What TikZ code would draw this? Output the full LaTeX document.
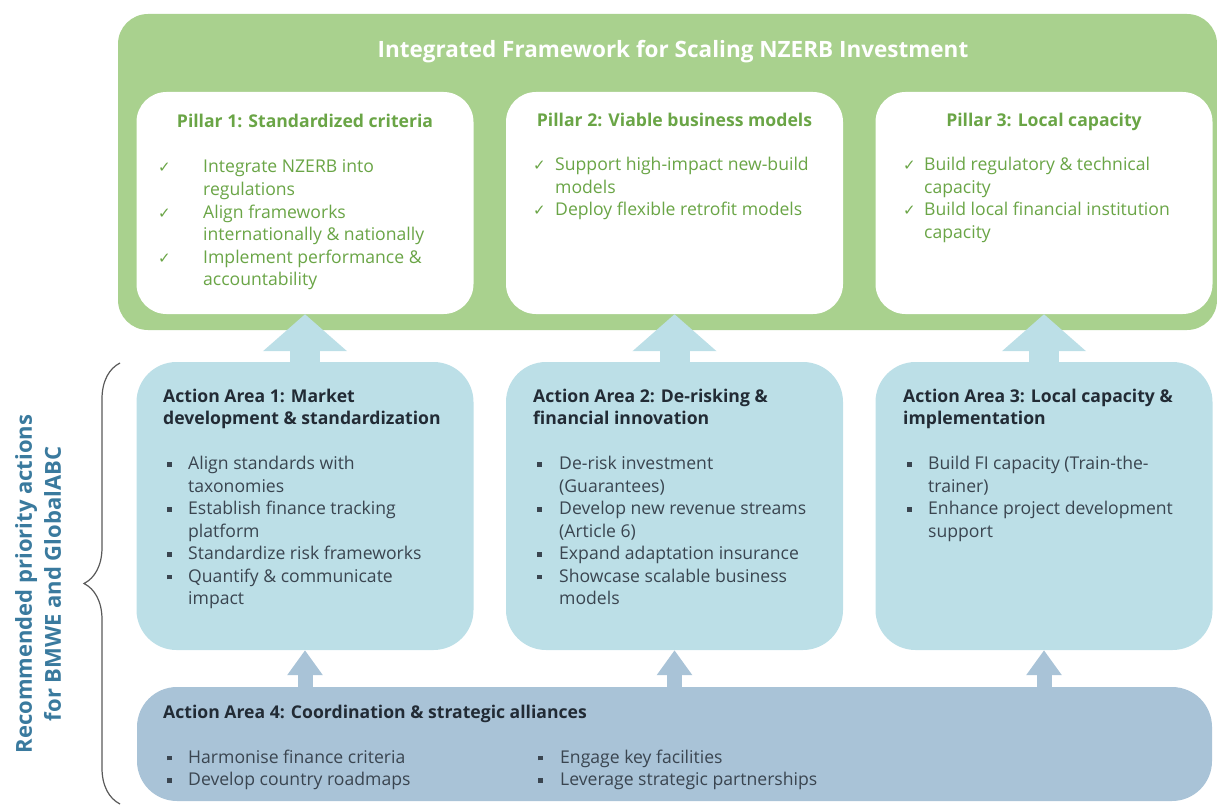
\documentclass[tikz,border=0pt]{standalone}
\usepackage{fontspec}
\setmainfont{Open Sans}
\newfontfamily\symfont{DejaVu Sans}
\usetikzlibrary{arrows.meta,decorations.pathreplacing}

\definecolor{framegreen}{HTML}{A9D18E}
\definecolor{pillargreen}{HTML}{6AA546}
\definecolor{actionblue}{HTML}{BCDFE7}
\definecolor{coordblue}{HTML}{A9C3D7}
\definecolor{labelblue}{HTML}{3A7A9E}
\definecolor{titledark}{HTML}{222B35}
\definecolor{itemgray}{HTML}{3A4550}

\newcommand{\chk}[1]{\makebox[#1][l]{\symfont\fontsize{15}{22.5}\selectfont\color{pillargreen}✓}}
\newcommand{\sq}{\hspace{4pt}\raisebox{2.6pt}{\rule{4.6pt}{4.6pt}}}
\newcommand{\hd}[1]{\multicolumn{2}{@{}l@{}}{\bfseries\color{titledark}#1}}

\begin{document}
\begin{tikzpicture}[x=1pt,y=-1pt]

  \tikzset{main box/.style={rectangle, rounded corners=30pt, inner sep=0pt}, }
  \tikzset{pillar/.style={main box, fill=white,
      minimum width=337pt, minimum height=222pt}, }
  \tikzset{action/.style={main box, rounded corners=40pt, fill=actionblue,
      minimum width=337pt, minimum height=288pt}, }
  \tikzset{ptitle/.style={anchor=base, inner sep=0pt, text=pillargreen,
      font=\bfseries\fontsize{17.6}{22.5}\selectfont}, }
  \tikzset{txt/.style={anchor=base west, inner sep=0pt,
      font=\fontsize{17.6}{22.5}\selectfont}, }
  \tikzset{linea/.style={line width=30pt, actionblue,
      -{Triangle[length=37pt,width=82pt]}}, }
  \tikzset{lineb/.style={line width=15pt, coordblue,
      -{Triangle[length=25pt,width=34pt]}}, }

  \useasboundingbox (0,0) rectangle (1217,805);

  % framework
  \node[main box, fill=framegreen, minimum width=1099pt, minimum height=316pt] (0) at (667.5,172) {};
  \node[text=white, font=\bfseries\fontsize{22.5}{26}\selectfont] (00) at (673,52) {Integrated Framework for Scaling NZERB Investment};

  \node[pillar] (p1) at (305,203) {};
  \node[pillar] (p2) at (674.5,203) {};
  \node[pillar] (p3) at (1044,203) {};

  \node[ptitle] (p1t) at (305,128) {Pillar 1: Standardized criteria};
  \node[ptitle] (p2t) at (674.5,127) {Pillar 2: Viable business models};
  \node[ptitle] (p3t) at (1044,127) {Pillar 3: Local capacity};

  \node[txt, text=pillargreen] (p1l) at (158,173) {\begin{tabular}[t]{@{}l@{}l@{}}
    \chk{45pt} & Integrate NZERB into\\
               & regulations\\
    \chk{45pt} & Align frameworks\\
               & internationally \& nationally\\
    \chk{45pt} & Implement performance \&\\
               & accountability
  \end{tabular}};
  \node[txt, text=pillargreen] (p2l) at (533,171) {\begin{tabular}[t]{@{}l@{}l@{}}
    \chk{22pt} & Support high-impact new-build\\
               & models\\
    \chk{22pt} & Deploy flexible retrofit models
  \end{tabular}};
  \node[txt, text=pillargreen] (p3l) at (903,171) {\begin{tabular}[t]{@{}l@{}l@{}}
    \chk{21pt} & Build regulatory \& technical\\
               & capacity\\
    \chk{21pt} & Build local financial institution\\
               & capacity
  \end{tabular}};

  % action areas
  \node[action] (aa1) at (305,506) {};
  \node[action] (aa2) at (674.5,506) {};
  \node[action] (aa3) at (1044,506) {};
  \node[main box, rounded corners=40pt, fill=coordblue,
        minimum width=1075pt, minimum height=114pt] (aa4) at (674.5,744) {};

  \node[txt, text=itemgray] (aa1l) at (163,402) {\begin{tabular}[t]{@{}p{25pt}@{}l@{}}
    \hd{Action Area 1: Market}\\
    \hd{development \& standardization}\\
    \\
    \sq & Align standards with\\
        & taxonomies\\
    \sq & Establish finance tracking\\
        & platform\\
    \sq & Standardize risk frameworks\\
    \sq & Quantify \& communicate\\
        & impact
  \end{tabular}};
  \node[txt, text=itemgray] (aa2l) at (533,402) {\begin{tabular}[t]{@{}p{26pt}@{}l@{}}
    \hd{Action Area 2: De-risking \&}\\
    \hd{financial innovation}\\
    \\
    \sq & De-risk investment\\
        & (Guarantees)\\
    \sq & Develop new revenue streams\\
        & (Article 6)\\
    \sq & Expand adaptation insurance\\
    \sq & Showcase scalable business\\
        & models
  \end{tabular}};
  \node[txt, text=itemgray] (aa3l) at (903,402) {\begin{tabular}[t]{@{}p{25pt}@{}l@{}}
    \hd{Action Area 3: Local capacity \&}\\
    \hd{implementation}\\
    \\
    \sq & Build FI capacity (Train-the-\\
        & trainer)\\
    \sq & Enhance project development\\
        & support
  \end{tabular}};
  \node[txt, text=itemgray] (aa4l) at (163,718) {\begin{tabular}[t]{@{}p{25pt}@{}p{346pt}@{}p{26pt}@{}l@{}}
    \multicolumn{4}{@{}l@{}}{\bfseries\color{titledark}Action Area 4: Coordination \& strategic alliances}\\
    \\
    \sq & Harmonise finance criteria & \sq & Engage key facilities\\
    \sq & Develop country roadmaps   & \sq & Leverage strategic partnerships
  \end{tabular}};

  % arrows
  \foreach \x/\y in {aa1/p1,aa2/p2,aa3/p3}
    \draw[linea] (\x.north) -- (\y.south);
  \foreach \x in {aa1,aa2,aa3}
    \draw[lineb] (\x.south |- aa4.north) -- (\x.south);

  % side label
  \coordinate (b1) at (120,804);
  \coordinate (b2) at (120,363);
  \draw[gray!70!black, line width=1.2pt,
        decorate, decoration={brace, amplitude=36pt}] (b1) -- (b2);
  \node[rotate=90, align=center, text=labelblue,
        font=\bfseries\fontsize{22}{29}\selectfont] (lbl) at (38,584)
        {Recommended priority actions\\for BMWE and GlobalABC};

\end{tikzpicture}
\end{document}
